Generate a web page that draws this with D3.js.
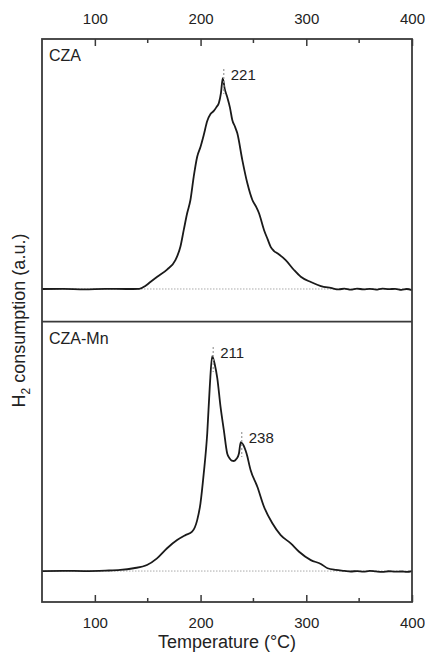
<!DOCTYPE html>
<html lang="en">
<head>
<meta charset="utf-8">
<title>H2-TPR</title>
<script src="https://cdn.jsdelivr.net/npm/d3@7"></script>
<style>
  body { margin: 0; background: #fff; }
  text { font-family: "Liberation Sans", Arial, sans-serif; fill: #222; }
  .frame { fill: none; stroke: #3a3a3a; stroke-width: 1.8px; }
  .curve { fill: none; stroke: #1a1a1a; stroke-width: 1.8px; stroke-linejoin: round; }
  .base { stroke: #aaa; stroke-width: 1px; stroke-dasharray: 1.5 1.5; }
  .peak { stroke: #999; stroke-width: 1.2px; stroke-dasharray: 2 2; }
</style>
</head>
<body>
<svg id="chart" width="425" height="655"></svg>
<script>

// temperature (°C) and H2 signal (a.u., baseline = 0, main peak = 1)
var czaT = [50, 70, 90, 110, 130, 142, 147.7, 152.5, 159, 168.3, 176.2, 180.9, 184.1, 187.3, 190.4, 193.5,
  196.8, 199.9, 203, 206.3, 209.4, 212.5, 215, 217.3, 219.3, 221, 222.8, 225.2, 227.8, 230, 232.5,
  234.7, 239.5, 244.2, 249, 252.5, 255.2, 260, 263.5, 266.3, 269.5, 272.7, 280.5, 288.4, 294.8, 304.3,
  313.8, 323.2, 330.8, 336, 342, 348, 354, 360, 366, 372, 378, 384, 390, 395, 400];
var czaV = [0, 0.001, -0.002, 0.001, 0, 0.001, 0.014, 0.033, 0.058, 0.092, 0.137, 0.2, 0.28, 0.359, 0.422, 0.532,
  0.627, 0.673, 0.73, 0.796, 0.829, 0.844, 0.862, 0.882, 0.93, 1.0, 0.95, 0.91, 0.86, 0.801, 0.77,
  0.739, 0.611, 0.502, 0.422, 0.39, 0.36, 0.28, 0.235, 0.2, 0.18, 0.169, 0.137, 0.09, 0.058, 0.033,
  0.014, 0.005, -0.002, 0.002, -0.003, 0.002, -0.002, 0.001, -0.003, 0.002, -0.001, 0.001, -0.004, 0.0, -0.005];

var mnT = [50, 70, 90, 110, 124, 136.6, 149.3, 158.8, 168.3, 177.8, 185.7, 192, 196.8, 199.9, 203, 206.3,
  208.7, 211, 213.5, 215.8, 218.9, 222, 225.2, 227.4, 229.5, 231.5, 234, 236.3, 238, 240, 243.5,
  247.3, 253.7, 260, 267.9, 275.8, 285.3, 293.2, 304.3, 313.8, 320.1, 328, 335.9, 342, 348, 354, 360,
  366, 372, 378, 384, 390, 395, 400];
var mnV = [0, 0.001, 0, 0.002, 0.005, 0.013, 0.028, 0.059, 0.106, 0.144, 0.167, 0.183, 0.237, 0.315, 0.454, 0.64,
  0.857, 1.0, 0.96, 0.898, 0.764, 0.656, 0.547, 0.525, 0.514, 0.512, 0.522, 0.547, 0.6, 0.59, 0.547,
  0.47, 0.392, 0.299, 0.222, 0.167, 0.129, 0.09, 0.051, 0.033, 0.013, 0.005, 0.001, -0.002, 0.0, -0.003, 0.001,
  -0.002, -0.004, -0.001, -0.003, -0.002, -0.004, 0.0];

var panelNames = ["CZA", "CZA-Mn"];
var peakTemps = [[221], [211, 238]];
var peakVals = [[1.0], [1.0, 0.605]];
var xMajor = [100, 200, 300, 400];
var xMinor = [150, 250, 350];

(function() {
  var svg = d3.select("#chart");

  var pLeft = 42, pRight = 412, pTop = 39, pMid = 321.7, pBottom = 602;

  var x = d3.scaleLinear().domain([50, 400]).range([pLeft, pRight]);

  var panels = [
    {name: panelNames[0], T: czaT, V: czaV, peaks: peakTemps[0], pv: peakVals[0],
     y: d3.scaleLinear().domain([-0.155, 1.185]).range([pMid, pTop])},
    {name: panelNames[1], T: mnT, V: mnV, peaks: peakTemps[1], pv: peakVals[1],
     y: d3.scaleLinear().domain([-0.144, 1.16]).range([pBottom, pMid])}
  ];

  panels.forEach(function(p) {
    var g = svg.append("g");
    var pts = p.T.map(function(t, i) { return [t, p.V[i]]; });

    // dotted baseline
    g.append("line").attr("class", "base")
      .attr("x1", pLeft).attr("x2", pRight)
      .attr("y1", p.y(0)).attr("y2", p.y(0));

    var line = d3.line()
      .x(function(d) { return x(d[0]); })
      .y(function(d) { return p.y(d[1]); })
      .curve(d3.curveMonotoneX);

    g.append("path").attr("class", "curve").attr("d", line(pts));

    // peak markers + labels
    p.peaks.forEach(function(t, i) {
      var yp = p.y(p.pv[i]);
      g.append("line").attr("class", "peak")
        .attr("x1", x(t) + 1).attr("x2", x(t) + 1)
        .attr("y1", yp - 9).attr("y2", yp + 16);
      g.append("text")
        .attr("x", x(t) + 8).attr("y", yp + 2)
        .style("font-size", "15px")
        .text(t);
    });

    g.append("text")
      .attr("x", pLeft + 7).attr("y", p.y.range()[1] + 22)
      .style("font-size", "16px")
      .text(p.name);
  });

  // top and bottom axes, ticks pointing inward
  var topAxis = d3.axisTop(x).tickValues(xMajor).tickSize(-7).tickPadding(15).tickFormat(d3.format("d"));
  var botAxis = d3.axisBottom(x).tickValues(xMajor).tickSize(-7).tickPadding(15).tickFormat(d3.format("d"));

  var gt = svg.append("g").attr("transform", "translate(0," + pTop + ")").call(topAxis);
  var gb = svg.append("g").attr("transform", "translate(0," + pBottom + ")").call(botAxis);
  [gt, gb].forEach(function(g) {
    g.select(".domain").remove();
    g.selectAll(".tick line").attr("stroke", "#3a3a3a").attr("stroke-width", 1.5);
    g.selectAll(".tick text").style("font-size", "15px").attr("fill", "#222")
      .style("font-family", "'Liberation Sans', Arial, sans-serif");
  });

  xMinor.forEach(function(t) {
    svg.append("line").attr("x1", x(t)).attr("x2", x(t)).attr("y1", pTop).attr("y2", pTop + 4)
      .attr("stroke", "#3a3a3a").attr("stroke-width", 1.5);
    svg.append("line").attr("x1", x(t)).attr("x2", x(t)).attr("y1", pBottom).attr("y2", pBottom - 4)
      .attr("stroke", "#3a3a3a").attr("stroke-width", 1.5);
  });

  // frames
  svg.append("rect").attr("class", "frame")
    .attr("x", pLeft).attr("y", pTop).attr("width", pRight - pLeft).attr("height", pBottom - pTop);
  svg.append("line").attr("class", "frame")
    .attr("x1", pLeft).attr("x2", pRight).attr("y1", pMid).attr("y2", pMid);

  // axis titles
  svg.append("text")
    .attr("x", (pLeft + pRight) / 2).attr("y", 648)
    .attr("text-anchor", "middle")
    .style("font-size", "18px")
    .text("Temperature (°C)");

  var yt = svg.append("text")
    .attr("transform", "translate(25," + ((pTop + pBottom) / 2) + ") rotate(-90)")
    .attr("text-anchor", "middle")
    .style("font-size", "18px");
  yt.append("tspan").text("H");
  yt.append("tspan").attr("dy", 5).style("font-size", "12px").text("2");
  yt.append("tspan").attr("dy", -5).text(" consumption (a.u.)");
})();

</script>
</body>
</html>
